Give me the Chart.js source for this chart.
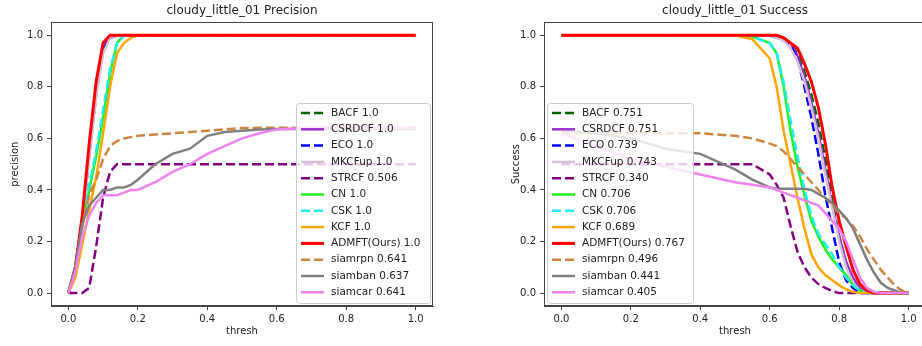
<!DOCTYPE html>
<html>
<head>
<meta charset="utf-8">
<script src="https://cdn.jsdelivr.net/npm/chart.js@4/dist/chart.umd.min.js"></script>
<style>
html,body{margin:0;padding:0;background:#fff;overflow:hidden;width:922px;height:346px;}
#left{position:absolute;left:0;top:0;}
#right{position:absolute;left:461px;top:0;}
</style>
</head>
<body>
<canvas id="left" width="461" height="346"></canvas>
<canvas id="right" width="465" height="346"></canvas>
<script>
// trackers + scores shown in the legends
const trackers = ["BACF","CSRDCF","ECO","MKCFup","STRCF","CN","CSK","KCF","ADMFT(Ours)","siamrpn","siamban","siamcar"];
const precScores = [1.0,1.0,1.0,1.0,0.506,1.0,1.0,1.0,1.0,0.641,0.637,0.641];
const succScores = [0.751,0.751,0.739,0.743,0.340,0.706,0.706,0.689,0.767,0.496,0.441,0.405];
const xTicks = [0,0.2,0.4,0.6,0.8,1.0];
const yTicks = [0,0.2,0.4,0.6,0.8,1.0];

// precision plot, values at precThresh
const precThresh = [0,.02,.04,.06,.08,.10,.12,.14,.16,.18,.20,.25,.30,.35,.40,.45,.50,.55,.60,.70,.80,.90,1.0];
const precBACF    = [0,.09,.28,.55,.79,.95,.99,1,1,1,1,1,1,1,1,1,1,1,1,1,1,1,1];
const precCSRDCF  = [0,.10,.29,.56,.80,.96,1,1,1,1,1,1,1,1,1,1,1,1,1,1,1,1,1];
const precECO     = [0,.09,.27,.53,.77,.94,.99,1,1,1,1,1,1,1,1,1,1,1,1,1,1,1,1];
const precMKCFup  = [0,.09,.27,.52,.76,.93,.99,1,1,1,1,1,1,1,1,1,1,1,1,1,1,1,1];
const precSTRCF   = [0,0,0,.02,.18,.37,.47,.50,.50,.50,.50,.50,.50,.50,.50,.50,.50,.50,.50,.50,.50,.50,.50];
const precCN      = [0,.10,.26,.40,.53,.68,.85,.97,1,1,1,1,1,1,1,1,1,1,1,1,1,1,1];
const precCSK     = [0,.10,.28,.42,.55,.71,.87,.97,1,1,1,1,1,1,1,1,1,1,1,1,1,1,1];
const precKCF     = [0,.06,.19,.32,.45,.62,.80,.93,.97,.99,1,1,1,1,1,1,1,1,1,1,1,1,1];
const precADMFT   = [0,.10,.30,.58,.82,.97,1,1,1,1,1,1,1,1,1,1,1,1,1,1,1,1,1];
const precSiamrpn = [0,.10,.26,.38,.44,.52,.57,.59,.60,.605,.61,.615,.62,.625,.63,.635,.64,.641,.641,.641,.641,.641,.641];
const precSiamban = [0,.10,.27,.34,.37,.40,.40,.41,.41,.42,.44,.50,.54,.56,.61,.625,.63,.635,.637,.637,.637,.637,.637];
const precSiamcar = [0,.08,.22,.30,.35,.38,.38,.38,.39,.40,.40,.43,.47,.50,.54,.57,.60,.62,.635,.641,.641,.641,.641];

// success plot, values at succThresh
const succThresh = [0,.1,.2,.3,.4,.5,.55,.6,.62,.64,.66,.68,.70,.72,.74,.76,.78,.80,.82,.84,.86,.88,.90,.92,.94,.96,.98,1.0];
const succBACF    = [1,1,1,1,1,1,1,1,1,.99,.97,.93,.86,.77,.66,.52,.36,.22,.12,.05,.02,0,0,0,0,0,0,0];
const succCSRDCF  = [1,1,1,1,1,1,1,1,1,.99,.97,.92,.84,.74,.62,.48,.34,.22,.12,.06,.02,0,0,0,0,0,0,0];
const succECO     = [1,1,1,1,1,1,1,1,.99,.98,.96,.91,.80,.68,.54,.38,.25,.12,.05,.02,0,0,0,0,0,0,0,0];
const succMKCFup  = [1,1,1,1,1,1,1,1,.99,.98,.95,.90,.82,.72,.60,.46,.33,.20,.10,.04,.01,0,0,0,0,0,0,0];
const succSTRCF   = [.5,.5,.5,.5,.5,.5,.5,.46,.42,.37,.26,.16,.10,.06,.035,.02,.008,0,0,0,0,0,0,0,0,0,0,0];
const succCN      = [1,1,1,1,1,1,.995,.97,.93,.80,.63,.49,.38,.28,.22,.17,.13,.10,.07,.03,.01,0,0,0,0,0,0,0];
const succCSK     = [1,1,1,1,1,1,.995,.97,.93,.82,.67,.53,.40,.30,.23,.19,.15,.10,.06,.03,.01,0,0,0,0,0,0,0];
const succKCF     = [1,1,1,1,1,1,.985,.91,.80,.63,.50,.37,.25,.15,.10,.07,.05,.03,.015,.005,0,0,0,0,0,0,0,0];
const succADMFT   = [1,1,1,1,1,1,1,1,1,.99,.97,.95,.89,.82,.72,.58,.41,.28,.18,.09,.035,.01,0,0,0,0,0,0];
const succSiamrpn = [.62,.62,.62,.62,.62,.61,.60,.58,.57,.55,.52,.49,.46,.43,.40,.37,.34,.31,.29,.26,.22,.17,.13,.09,.06,.03,.01,0];
const succSiamban = [.63,.62,.60,.56,.54,.48,.44,.41,.405,.405,.405,.405,.405,.40,.385,.37,.35,.32,.29,.25,.19,.13,.08,.04,.02,.01,0,0];
const succSiamcar = [.62,.57,.52,.49,.46,.43,.42,.41,.40,.39,.38,.37,.36,.35,.34,.31,.28,.25,.20,.13,.06,.02,.005,0,0,0,0,0];

const precSeries = [precBACF,precCSRDCF,precECO,precMKCFup,precSTRCF,precCN,precCSK,precKCF,precADMFT,precSiamrpn,precSiamban,precSiamcar];
const succSeries = [succBACF,succCSRDCF,succECO,succMKCFup,succSTRCF,succCN,succCSK,succKCF,succADMFT,succSiamrpn,succSiamban,succSiamcar];

// styles
const colors = ["#006400","#9932cc","#0000ff","#d8bfd8","#800080","#22ee22","#22eeee","#ffa500","#ff0000","#cd853f","#808080","#ee82ee"];
const dashed = [true,false,true,false,true,false,true,false,false,true,false,false];
const FONT = "'DejaVu Sans', sans-serif";
const TXT = "#222";

function fmt(v){ return v === 1 ? "1.0" : v.toFixed(3); }

const frame = {
  id:"frame",
  afterDatasetsDraw(chart){
    const a = chart.chartArea, c = chart.ctx;
    c.save();
    c.strokeStyle = "#444"; c.lineWidth = 1;
    c.strokeRect(Math.round(a.left)+.5, Math.round(a.top)+.5, Math.round(a.right-a.left)-1, Math.round(a.bottom-a.top)-1);
    c.restore();
  }
};

const boxLegend = {
  id:"boxLegend",
  afterDraw(chart, args, o){
    const c = chart.ctx;
    c.save();
    c.beginPath();
    c.roundRect(o.x+.5, o.y+.5, o.w, o.h, 3);
    c.fillStyle = "rgba(255,255,255,0.8)";
    c.fill();
    c.strokeStyle = "#cccccc"; c.lineWidth = 1;
    c.stroke();
    c.font = "10.5px " + FONT;
    c.textBaseline = "middle";
    chart.data.datasets.forEach((ds,i)=>{
      const cy = o.y + o.first + i*o.row;
      c.beginPath();
      c.strokeStyle = ds.borderColor; c.lineWidth = ds.borderWidth;
      c.setLineDash(ds.borderDash || []);
      c.moveTo(o.x+5, cy); c.lineTo(o.x+28, cy);
      c.stroke();
      c.setLineDash([]);
      c.fillStyle = TXT;
      c.fillText(ds.label, o.x+35, cy);
    });
    c.restore();
  }
};

function makeChart(id, thresh, series, scores, title, yTitle, lay){
  const datasets = series.map((vals,i)=>({
    label: trackers[i] + " " + fmt(scores[i]),
    data: vals.map((v,j)=>({x:thresh[j], y:v})),
    borderColor: colors[i],
    borderWidth: i === 8 ? 3 : 2.5,
    borderDash: dashed[i] ? [9,4] : [],
    borderCapStyle: "butt",
    pointRadius: 0,
    tension: 0,
    fill: false,
    order: trackers.length - i
  }));
  return new Chart(document.getElementById(id), {
    type:"line",
    data:{datasets},
    plugins:[frame, boxLegend],
    options:{
      responsive:false, animation:false, devicePixelRatio:1,
      layout:{padding:{left:0, right:lay.right, top:0, bottom:0}},
      plugins:{
        legend:{display:false},
        tooltip:{enabled:false},
        title:{display:true, text:title, fullSize:false, color:TXT, font:{family:FONT, size:12, weight:"normal"}, padding:{top:4,bottom:4}},
        boxLegend: lay.legend
      },
      scales:{
        x:{
          type:"linear", min:-0.05, max:1.05,
          afterBuildTicks: s => { s.ticks = xTicks.map(v=>({value:v})); },
          afterFit: s => { s.height = 40; },
          ticks:{callback: v => v.toFixed(1), color:TXT, font:{family:FONT, size:10}, padding:3, maxRotation:0, autoSkip:false},
          grid:{drawOnChartArea:false, drawTicks:true, tickLength:4, color:"#444"},
          border:{display:true, color:"#444"},
          title:{display:true, text:"thresh", color:TXT, font:{family:FONT, size:10}, padding:{top:0, bottom:9}}
        },
        y:{
          type:"linear", min:-0.05, max:1.05,
          afterBuildTicks: s => { s.ticks = yTicks.map(v=>({value:v})); },
          afterFit: s => { s.width = lay.yw; },
          ticks:{callback: v => v.toFixed(1), color:TXT, font:{family:FONT, size:10}, padding:4, autoSkip:false},
          grid:{drawOnChartArea:false, drawTicks:true, tickLength:4, color:"#444"},
          border:{display:true, color:"#444"},
          title:{display:true, text:yTitle, color:TXT, font:{family:FONT, size:10}, padding:{top:lay.ytp, bottom:0}}
        }
      }
    }
  });
}

makeChart("left", precThresh, precSeries, precScores, "cloudy_little_01 Precision", "precision",
  {right:28, yw:51, ytp:9, legend:{x:296, y:103, w:134, h:200, first:10, row:16.3}});
makeChart("right", succThresh, succSeries, succScores, "cloudy_little_01 Success", "Success",
  {right:0, yw:83, ytp:49, legend:{x:86, y:103, w:146, h:200, first:10, row:16.3}});
</script>
</body>
</html>
